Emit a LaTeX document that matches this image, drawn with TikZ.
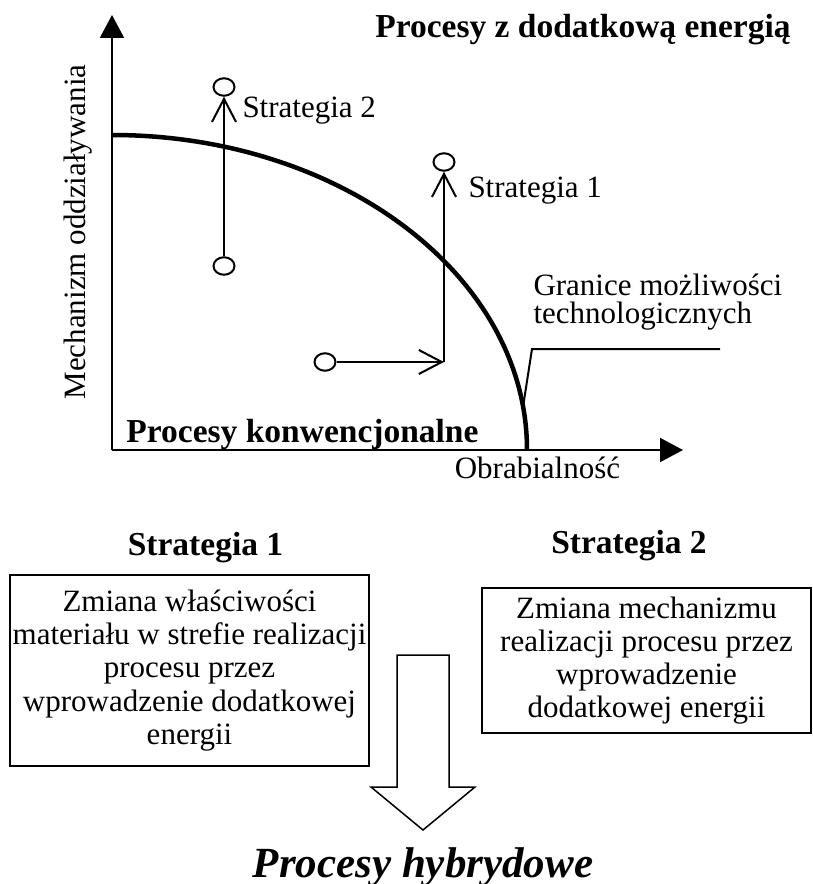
\documentclass[tikz,border=0pt]{standalone}
\usepackage{fontspec}
\setmainfont{Liberation Serif}
\usetikzlibrary{arrows.meta, shapes.geometric}

\begin{document}
\begin{tikzpicture}[
  x=20pt, y=20pt,
  os/.style={line width=0.8pt, -{Triangle[length=9.2pt, width=9.6pt]}},
  krzywa/.style={line width=1.8pt},
  cienka/.style={line width=0.8pt},
  strz/.style={line width=0.8pt, -{Straight Barb[length=9.2pt, width=9.6pt]}},
  kolko/.style={ellipse, draw, line width=0.8pt, minimum width=8.4pt, minimum height=7pt, inner sep=0pt},
  opis/.style={font=\fontsize{12.4}{11.4}\selectfont, inner sep=0pt},
  tytul/.style={font=\fontsize{13.4}{15}\selectfont\bfseries, inner sep=0pt},
  ramka/.style={rectangle, draw, line width=0.8pt, align=center, font=\fontsize{12.4}{13.3}\selectfont, inner sep=0pt}
]
  \useasboundingbox (-2.24,9.0) rectangle (14.0,-8.68);

  % osie
  \coordinate (O) at (0,0);
  \coordinate (ky) at (0,8.7);
  \coordinate (kx) at (11.42,0);
  \draw[os] (O) -- (ky);
  \draw[os] (O) -- (kx);

  \node[opis, rotate=90, anchor=base] (oy) at (-0.54,4.36) {Mechanizm oddziaływania};
  \node[opis, anchor=base] (ox) at (8.51,-0.56) {Obrabialność};
  \node[tytul, anchor=base] (tdod) at (9.42,8.24) {Procesy z dodatkową energią};
  \node[tytul, anchor=base] (tkonw) at (3.81,0.16) {Procesy konwencjonalne};

  % granica
  \draw[krzywa] (0,6.3) arc[start angle=90, end angle=0, x radius=8.3, y radius=6.3];

  \node[opis, anchor=west, align=left] (gran) at (8.42,2.96) {Granice możliwości\\technologicznych};
  \coordinate (kg) at (8.22,0.86);
  \coordinate (kz) at (8.4,2.02);
  \coordinate (kk) at (12.16,2.02);
  \draw[cienka] (kg) -- (kz) -- (kk);

  % strategia 2
  \node[kolko] (s2d) at (2.24,3.68) {};
  \node[kolko] (s2g) at (2.24,7.26) {};
  \draw[strz] (s2d) -- (s2g);
  \node[opis, anchor=base west] (l2) at (2.6,6.64) {Strategia 2};

  % strategia 1
  \node[kolko] (s1d) at (4.26,1.76) {};
  \node[kolko] (s1g) at (6.64,5.76) {};
  \coordinate (s1r) at (6.64,1.76);
  \draw[strz] (s1d) -- (s1r);
  \draw[strz] (s1r) -- (s1g);
  \node[opis, anchor=base west] (l1) at (7.12,5.06) {Strategia 1};

  % dol
  \node[tytul, anchor=base] (st1) at (1.87,-2.1) {Strategia 1};
  \node[tytul, anchor=base] (st2) at (10.34,-2.06) {Strategia 2};

  \node[ramka, minimum width=143.6pt, minimum height=76.4pt] (r1) at (1.55,-4.41) {Zmiana właściwości\\materiału w strefie realizacji\\procesu przez\\wprowadzenie dodatkowej\\energii};
  \node[ramka, minimum width=131.6pt, minimum height=58pt] (r2) at (10.69,-4.21) {Zmiana mechanizmu\\realizacji procesu przez\\wprowadzenie\\dodatkowej energii};

  \draw[line width=0.6pt] (5.7,-4.1) -- (6.74,-4.1) -- (6.74,-6.74) -- (7.26,-6.74) -- (6.22,-7.6) -- (5.18,-6.74) -- (5.7,-6.74) -- cycle;
  \node[font=\fontsize{17.2}{20}\selectfont\bfseries\itshape, anchor=base, inner sep=0pt] (hyb) at (6.22,-8.54) {Procesy hybrydowe};
\end{tikzpicture}
\end{document}
